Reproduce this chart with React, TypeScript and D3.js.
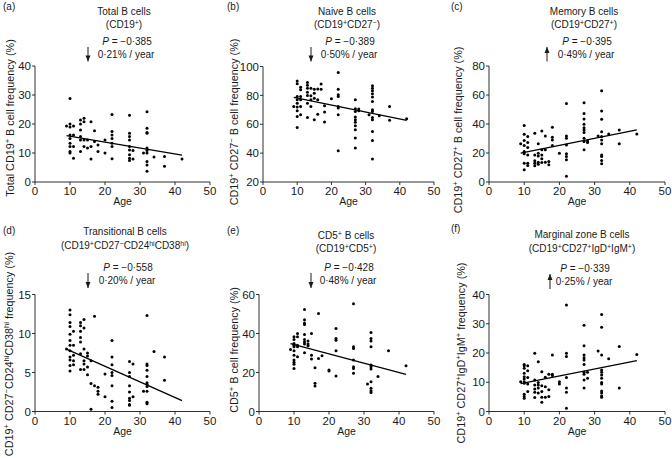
import React, { useEffect } from 'react';
import * as d3 from 'd3';

// each entry: [age, values measured at that age]
type Group = [number, number[]];

const totalB: Group[] = [
  [9, [19.3]],
  [10, [28.8, 20, 19, 16.2, 15, 13.4, 12.2, 10.5, 10]],
  [11, [19.3, 16.2, 12.2, 8.2]],
  [13, [21.4, 20, 17.9, 15.7, 14.5, 10.5]],
  [14, [22, 20.8, 14.5, 12.2]],
  [15, [14.5, 11.7]],
  [16, [20.8, 12.2, 7.9]],
  [17, [17.7, 14]],
  [18, [12.8, 10.5]],
  [20, [14.5, 10]],
  [22, [23.3, 17.4, 16.2, 15, 13.4, 12.2, 8]],
  [27, [23, 16.8, 15.7, 14.5, 12.2, 11, 9.4, 8.2, 7.4]],
  [28, [10.9, 7.9]],
  [31, [10]],
  [32, [24.2, 18.5, 17.1, 16.8, 11.7, 10.9, 10, 7.1, 5.9, 3.7]],
  [34, [8.6]],
  [37, [8.8, 5.4]],
  [42, [7.9]],
];

const naiveB: Group[] = [
  [9, [72.3]],
  [10, [90, 88, 79.2, 77, 74.6, 71.9, 69.3, 65.4, 57.8]],
  [11, [85.7, 83.9, 79.2, 77, 72.3, 66.6]],
  [13, [89, 87, 85, 82.2, 80, 74.6, 64.7]],
  [14, [85, 79.7, 77, 72.3]],
  [15, [84.3, 81.5, 78, 63.1]],
  [16, [84.5, 77, 67]],
  [17, [87.8, 84.3]],
  [18, [72.8, 68.4, 61.5]],
  [20, [77.6]],
  [22, [95.8, 84.3, 80.4, 79.2, 72.3, 71.2, 66.6, 41.7]],
  [27, [77, 70.7, 68.9, 65, 63.1, 61.3, 59, 56.2, 50.4, 43.5]],
  [28, [70.5, 69.3]],
  [31, [66.6]],
  [32, [86.6, 85, 83.2, 81.1, 78.8, 75.8, 70, 68.9, 64.7, 63.1, 55, 48.8, 35.9]],
  [34, [65.9]],
  [37, [72.3, 62.7]],
  [42, [63.8]],
];

const memoryB: Group[] = [
  [9, [26.3]],
  [10, [38.9, 32.9, 28.6, 25.1, 21, 19.4, 13, 8.5]],
  [11, [31.3, 27.2, 23.8, 18.7, 13, 11.4]],
  [13, [33.6, 18.7, 14.6, 13, 11.2]],
  [14, [26.3, 19.9, 18, 13.7, 12.3]],
  [15, [35.2, 22.2, 18.7, 16, 13.5]],
  [16, [31.8, 22.2, 13.7]],
  [17, [14.2, 11.9]],
  [18, [37.7, 30.9, 29, 25.1]],
  [20, [19.9]],
  [22, [54.2, 31.8, 30.2, 25.6, 19.4, 17.6, 15.3, 3.9]],
  [27, [54.6, 47.3, 43.4, 39.8, 37.5, 35.9, 34.1, 30.2, 27.9, 22.2]],
  [28, [28.3, 27.2]],
  [31, [31.8]],
  [32, [62.9, 48.9, 43.2, 34.7, 31.3, 29, 26.3, 18.7, 17.6, 14.9, 12.6]],
  [34, [33.1]],
  [37, [35.9, 26.3]],
  [42, [33.1]],
];

const transitionalB: Group[] = [
  [9, [8.0]],
  [10, [13.0, 12.4, 11.4, 10.9, 9.9, 9.1, 8.5, 7.8, 7.0, 6.6, 5.9, 5.2]],
  [11, [10.3, 8.5, 7.2, 6.5, 6.0]],
  [13, [11.4, 11.0, 10.3, 9.5, 8.9, 7.4, 5.4]],
  [14, [11.8, 10.7, 8.0, 6.5, 6.1, 5.4]],
  [15, [7.5, 7.1, 5.7, 4.7]],
  [16, [6.5, 3.6, 0.3]],
  [17, [12.2, 3.3]],
  [18, [3.1, 2.6, 2.2]],
  [20, [4.8, 1.9]],
  [22, [9.1, 7.0, 6.0, 5.0, 4.6, 3.3, 1.3, 0.5]],
  [27, [6.4, 5.0, 4.5, 3.3, 2.5, 1.7, 1.4, 0.9, 0.8]],
  [28, [6.1, 1.9]],
  [31, [2.6]],
  [32, [12.3, 6.1, 5.9, 5.3, 4.5, 3.7, 3.5, 3.2, 2.6, 1.2, 1.0]],
  [34, [7.7]],
  [37, [7.0, 4.0]],
];

const cd5B: Group[] = [
  [9, [31.8]],
  [10, [38.3, 36.9, 34.9, 34.0, 33.2, 31.1, 28.9, 26.4, 25.2, 24.2, 22.1]],
  [11, [40, 38.3, 34.0, 33.2, 28.1]],
  [13, [52.3, 47.1, 45.4, 44.6, 39.5, 36.9, 35.7, 34.6, 30.1]],
  [14, [36.1, 34.6, 33.7]],
  [15, [40, 28.9, 26.9]],
  [16, [22.5, 14.5, 13.1]],
  [17, [50.2, 27.2]],
  [18, [28.6]],
  [20, [21.3, 20.8]],
  [22, [42.6, 37.4, 36.6, 31.1, 18.2]],
  [27, [55.3, 33.2, 32.3, 26.4, 23.0, 22.1, 19.6]],
  [31, [14.1]],
  [32, [40.5, 37.4, 36.1, 33.2, 23.8, 23.0, 21.8, 15.3, 11.9, 10.6, 9.7]],
  [34, [17.9]],
  [37, [31.1]],
  [42, [23.5]],
];

const marginalB: Group[] = [
  [9, [10.2]],
  [10, [16.1, 15.6, 14.8, 13.1, 11.9, 11.1, 10.2, 9.7, 5.9, 5.1, 4.5]],
  [11, [15.6, 13.9, 11.6, 9.4, 6.8]],
  [13, [19.9, 10.8, 9.1, 7.7, 6.6, 4.8]],
  [14, [17.0, 9.9, 9.1, 8.0, 6.3]],
  [15, [13.6, 8.8, 6.8, 4.9, 3.2]],
  [16, [11.7, 8.5, 4.9]],
  [17, [12.7, 7.4, 5.1]],
  [18, [19.3, 12.7, 12.3]],
  [20, [10.2, 9.4]],
  [22, [36.4, 19.9, 18.8, 11.6, 8.0, 6.6, 1.1]],
  [27, [29.5, 22.5, 19.3, 18.4, 17.6, 16.1, 13.4, 12.7, 10.8, 8.0]],
  [28, [13.4, 11.4]],
  [31, [20.7]],
  [32, [33.2, 28.8, 19.3, 14.2, 13.4, 12.5, 11.4, 9.9, 9.4, 7.0, 6.3, 5.3, 4.9]],
  [34, [18.0]],
  [37, [22.2, 8.0]],
  [42, [19.5]],
];

// regression lines: value at the first and last age
const fitAges = [9, 42];
const totalBFit = [16.0, 9.3];
const naiveBFit = [78.6, 62.7];
const memoryBFit = [19.9, 35.9];
const transitionalBFit = [8.0, 1.4];
const cd5BFit = [34.8, 19.0];
const marginalBFit = [9.5, 17.4];

const xTicks = [0, 10, 20, 30, 40, 50];

const FONT = '"Liberation Sans", Arial, Helvetica, sans-serif';
const INK = '#1a1a1a';

interface Panel {
  tag: string;
  title: string;
  subtitle: string;
  yLabel: string;
  p: string;
  rate: string;
  up: boolean;
  data: Group[];
  fit: number[];
  yDomain: [number, number];
  yTicks: number[];
  x0: number;
  x1: number;
  top: number;
  bottom: number;
  cx: number;       // centre of the title block
  arrowX: number;
  labelX: number;
  labelY: number;
  tagX: number;
  tagY: number;
  t1: number;
  t2: number;
  pY: number;
  rY: number;
}

const panels: Panel[] = [
  {
    tag: '(a)', title: 'Total B cells', subtitle: '(CD19^{+})',
    yLabel: 'Total CD19^{+} B cell frequency (%)', p: '−0·385', rate: '0·21% / year', up: false,
    data: totalB, fit: totalBFit, yDomain: [0, 40], yTicks: [0, 10, 20, 30, 40],
    x0: 35, x1: 210, top: 66, bottom: 182, cx: 124, arrowX: 88, labelX: 10, labelY: 118,
    tagX: 3, tagY: 10, t1: 15, t2: 28, pY: 45, rY: 57.5,
  },
  {
    tag: '(b)', title: 'Naive B cells', subtitle: '(CD19^{+}CD27^{−})',
    yLabel: 'CD19^{+} CD27^{−} B cell frequency (%)', p: '−0·389', rate: '0·50% / year', up: false,
    data: naiveB, fit: naiveBFit, yDomain: [20, 100], yTicks: [20, 40, 60, 80, 100],
    x0: 263, x1: 434, top: 66.5, bottom: 182, cx: 347, arrowX: 311, labelX: 234, labelY: 122,
    tagX: 227, tagY: 10, t1: 15, t2: 28, pY: 45, rY: 57.5,
  },
  {
    tag: '(c)', title: 'Memory B cells', subtitle: '(CD19^{+}CD27^{+})',
    yLabel: 'CD19^{+} CD27^{+} B cell frequency (%)', p: '−0·395', rate: '0·49% / year', up: true,
    data: memoryB, fit: memoryBFit, yDomain: [0, 80], yTicks: [0, 20, 40, 60, 80],
    x0: 489, x1: 665, top: 66, bottom: 182, cx: 584, arrowX: 547, labelX: 458, labelY: 130,
    tagX: 451, tagY: 10, t1: 15, t2: 28, pY: 45, rY: 57.5,
  },
  {
    tag: '(d)', title: 'Transitional B cells', subtitle: '(CD19^{+}CD27^{−}CD24^{hi}CD38^{hi})',
    yLabel: 'CD19^{+} CD27^{−}CD24^{hi}CD38^{hi} frequency (%)', p: '−0·558', rate: '0·20% / year', up: false,
    data: transitionalB, fit: transitionalBFit, yDomain: [0, 15], yTicks: [0, 5, 10, 15],
    x0: 35, x1: 210, top: 294.5, bottom: 411.5, cx: 125, arrowX: 88, labelX: 9, labelY: 354,
    tagX: 3, tagY: 234, t1: 235, t2: 249, pY: 271, rY: 284,
  },
  {
    tag: '(e)', title: 'CD5^{+} B cells', subtitle: '(CD19^{+}CD5^{+})',
    yLabel: 'CD5^{+} B cell frequency (%)', p: '−0·428', rate: '0·48% / year', up: false,
    data: cd5B, fit: cd5BFit, yDomain: [0, 60], yTicks: [0, 20, 40, 60],
    x0: 259, x1: 434, top: 294.5, bottom: 411.5, cx: 346, arrowX: 311, labelX: 234, labelY: 350,
    tagX: 227, tagY: 234, t1: 239, t2: 252, pY: 271, rY: 284,
  },
  {
    tag: '(f)', title: 'Marginal zone B cells', subtitle: '(CD19^{+}CD27^{+}IgD^{+}IgM^{+})',
    yLabel: 'CD19^{+} CD27^{+}IgD^{+}IgM^{+} frequency (%)', p: '−0·339', rate: '0·25% / year', up: true,
    data: marginalB, fit: marginalBFit, yDomain: [0, 40], yTicks: [0, 10, 20, 30, 40],
    x0: 489, x1: 665, top: 294.5, bottom: 411.5, cx: 582, arrowX: 550, labelX: 461, labelY: 353,
    tagX: 451, tagY: 232, t1: 238, t2: 252, pY: 272, rY: 285,
  },
];

// "CD19^{+}" -> CD19 with a raised plus
function rich(s: string) {
  return s.split(/(\^\{[^}]*\})/).filter(t => t).map((t, i) =>
    t.startsWith('^{')
      ? <tspan key={i} baselineShift="super" fontSize="70%">{t.slice(2, -1)}</tspan>
      : <tspan key={i}>{t}</tspan>
  );
}

function ScatterPanel({ pn }: { pn: Panel }) {
  const x = d3.scaleLinear().domain([0, 50]).range([pn.x0, pn.x1]);
  const y = d3.scaleLinear().domain(pn.yDomain).range([pn.bottom, pn.top]);
  const points = pn.data.flatMap(([age, vals]) => vals.map(v => [age, v] as [number, number]));
  const line = d3.line<number>()
    .x((_, i) => x(fitAges[i]))
    .y(d => y(d));

  const aTop = pn.pY + 2;
  const aBot = pn.rY + 4;
  const tip = pn.up ? aTop : aBot;
  const dir = pn.up ? 1 : -1;

  return (
    <g>
      <text x={pn.tagX} y={pn.tagY} fontSize={10}>{pn.tag}</text>
      <text x={pn.cx} y={pn.t1} fontSize={10} textAnchor="middle">{rich(pn.title)}</text>
      <text x={pn.cx} y={pn.t2} fontSize={10} textAnchor="middle">{rich(pn.subtitle)}</text>
      <text x={pn.cx + 3} y={pn.pY} fontSize={10} textAnchor="middle">
        <tspan fontStyle="italic">P</tspan> = {pn.p}
      </text>
      <text x={pn.cx + 2} y={pn.rY} fontSize={10} textAnchor="middle">{pn.rate}</text>

      {/* arrow */}
      <line x1={pn.arrowX} x2={pn.arrowX} y1={aTop} y2={aBot} stroke={INK} strokeWidth={1} />
      <path d={`M${pn.arrowX},${tip} L${pn.arrowX - 2.5},${tip + dir * 6} L${pn.arrowX + 2.5},${tip + dir * 6} Z`} fill={INK} />

      {/* axes */}
      <line x1={pn.x0} x2={pn.x0} y1={pn.top} y2={pn.bottom} stroke={INK} strokeWidth={0.9} />
      <line x1={pn.x0} x2={pn.x1} y1={pn.bottom} y2={pn.bottom} stroke={INK} strokeWidth={0.9} />
      {pn.yTicks.map(t => (
        <g key={'y' + t}>
          <line x1={pn.x0 - 3} x2={pn.x0} y1={y(t)} y2={y(t)} stroke={INK} strokeWidth={0.9} />
          <text x={pn.x0 - 4} y={y(t)} dy="0.36em" fontSize={11.5} textAnchor="end">{t}</text>
        </g>
      ))}
      {xTicks.map(t => (
        <g key={'x' + t}>
          <line x1={x(t)} x2={x(t)} y1={pn.bottom} y2={pn.bottom + 3} stroke={INK} strokeWidth={0.9} />
          <text x={x(t)} y={pn.bottom + 13} fontSize={11.5} textAnchor="middle">{t}</text>
        </g>
      ))}
      <text x={(pn.x0 + pn.x1) / 2} y={pn.bottom + 23} fontSize={10.5} textAnchor="middle">Age</text>
      <text transform={`translate(${pn.labelX},${pn.labelY}) rotate(-90)`} fontSize={10.8} textAnchor="middle" dy="0.35em">
        {rich(pn.yLabel)}
      </text>

      {/* dots */}
      {points.map((d, i) => (
        <circle key={i} cx={x(d[0])} cy={y(d[1])} r={1.5} fill="#000" />
      ))}
      <path d={line(pn.fit) || ''} fill="none" stroke="#000" strokeWidth={1.3} />
    </g>
  );
}

export default function App() {
  useEffect(() => {
    document.body.style.margin = '0';
  }, []);

  return (
    <svg width={672} height={458} style={{ display: 'block', background: '#fff' }}
      fontFamily={FONT} fill={INK}>
      {panels.map(pn => <ScatterPanel key={pn.tag} pn={pn} />)}
    </svg>
  );
}
